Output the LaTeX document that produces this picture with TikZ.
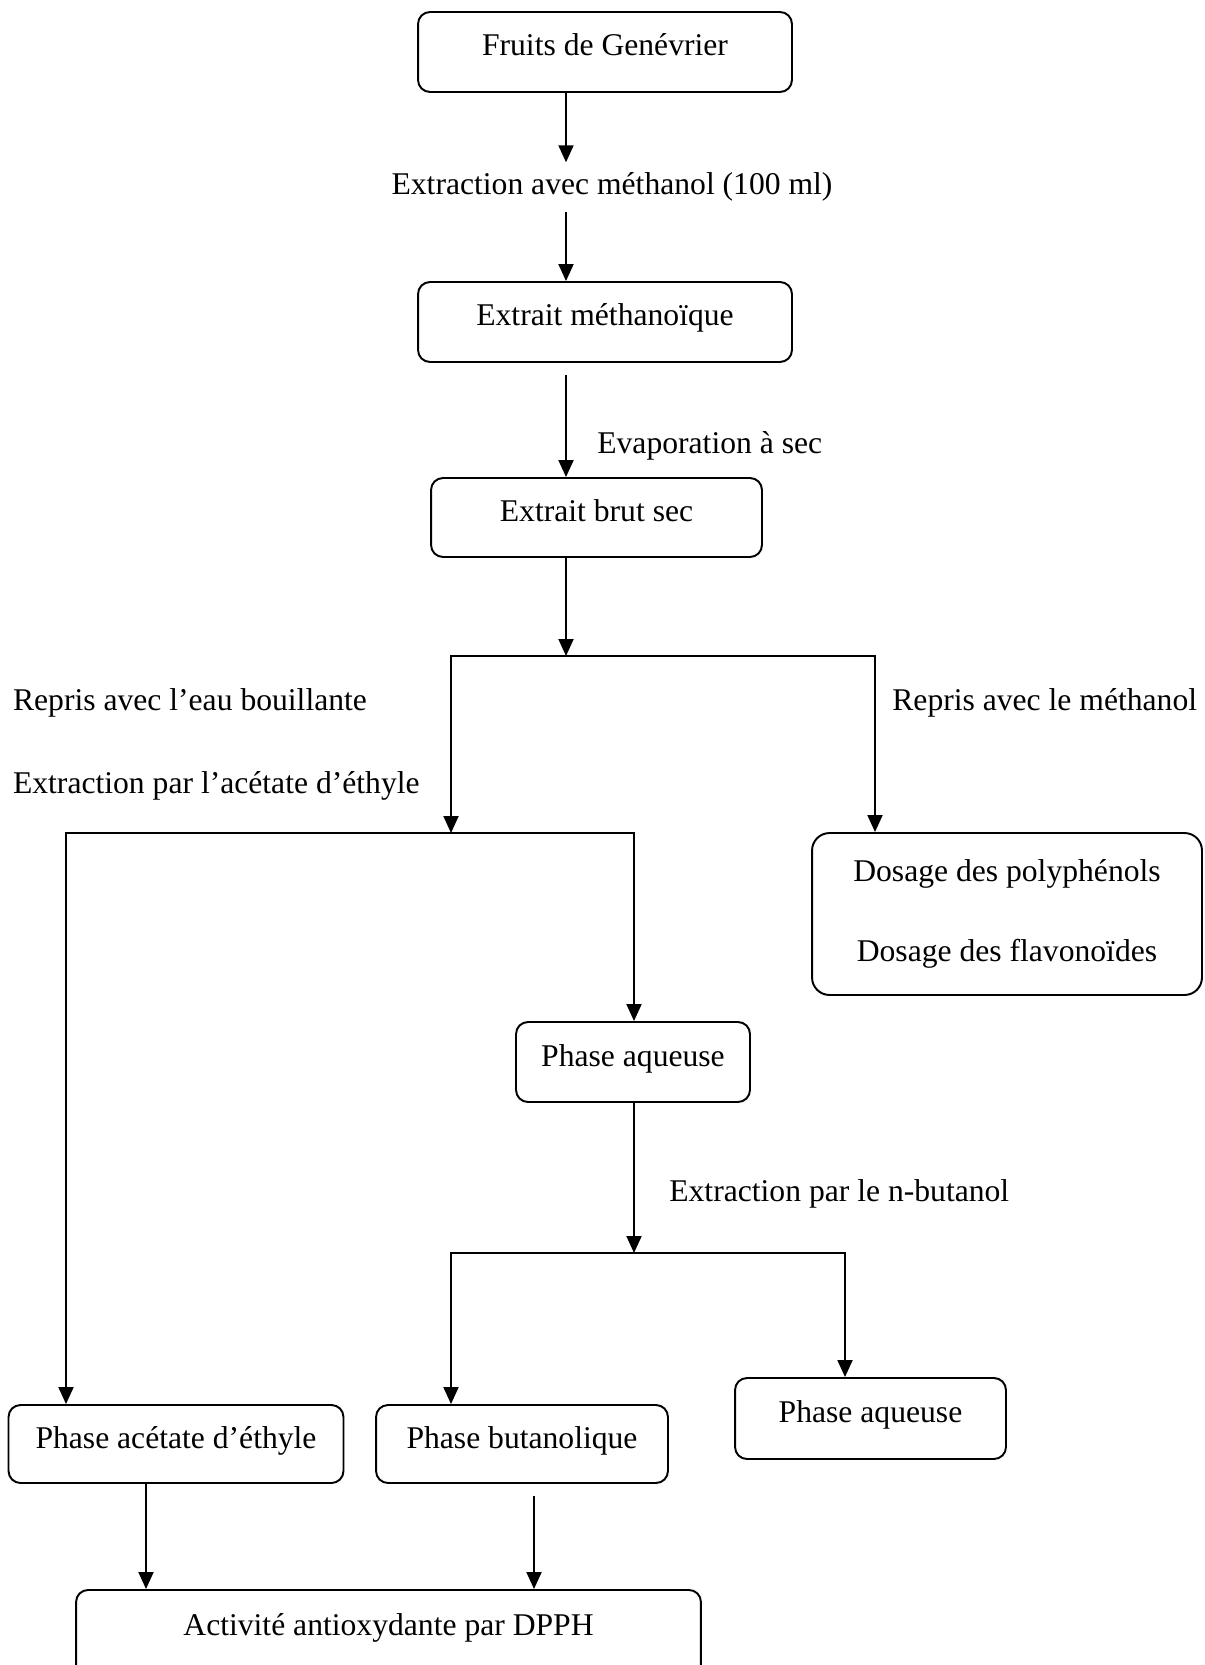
\documentclass[tikz,border=0pt]{standalone}
\usepackage{fontspec}
\setmainfont{Liberation Serif}
\usepackage{tikz}
\usetikzlibrary{arrows.meta}

\tikzset{
  procbox/.style={draw, rounded corners=0.24cm, line width=1.1pt, inner sep=0pt, text height=0.42cm, text depth=0.26cm},
  lbl/.style={inner xsep=0pt, inner ysep=0.2cm},
  flow/.style={line width=1.1pt, -{Triangle[length=0.34cm, width=0.3cm]}},
}

\begin{document}
\begin{tikzpicture}[x=0.02cm, y=-0.02cm, font=\fontsize{18}{21.6}\selectfont]
    \useasboundingbox (0, 0) rectangle (1204, 1665);

    \node[procbox, minimum width=7.48cm, minimum height=1.6cm] at (605, 52) (fruits) {Fruits de Genévrier};
    \node[lbl] at (612, 187) (extract) {Extraction avec méthanol (100 ml)};
    \node[procbox, minimum width=7.48cm, minimum height=1.6cm] at (605, 322) (methano) {Extrait méthanoïque};
    \node[lbl, anchor=west] at (597, 446) (evap) {Evaporation à sec};
    \node[procbox, minimum width=6.62cm, minimum height=1.58cm] at (596.5, 517.5) (brut) {Extrait brut sec};

    \node[lbl, anchor=west] at (12.7, 703) (eau) {Repris avec l’eau bouillante};
    \node[lbl, anchor=west] at (12.7, 786) (acetlbl) {Extraction par l’acétate d’éthyle};
    \node[lbl, anchor=west] at (892, 703) (methlbl) {Repris avec le méthanol};

    \node[procbox, rounded corners=0.35cm, minimum width=7.8cm, minimum height=3.24cm, text height=, text depth=, align=center] at (1007, 914) (dosage) {Dosage des polyphénols\\[0.84cm] Dosage des flavonoïdes};
    \node[procbox, minimum width=4.68cm, minimum height=1.6cm] at (633, 1062) (aq1) {Phase aqueuse};
    \node[lbl, anchor=west] at (669, 1194) (butlbl) {Extraction par le n-butanol};

    \node[procbox, minimum width=6.7cm, minimum height=1.56cm] at (176, 1444) (acet) {Phase acétate d’éthyle};
    \node[procbox, minimum width=5.84cm, minimum height=1.56cm] at (522, 1444) (but) {Phase butanolique};
    \node[procbox, minimum width=5.42cm, minimum height=1.62cm] at (870.5, 1418.5) (aq2) {Phase aqueuse};
    \node[procbox, anchor=north, minimum width=12.5cm, minimum height=2cm, text depth=0.6cm] at (388.5, 1589) (dpph) {Activité antioxydante par DPPH};

    \coordinate (mainx) at (566, 656);
    \coordinate (j1l) at (451, 656);
    \coordinate (j1r) at (875, 656);
    \coordinate (j2c) at (451, 833);
    \coordinate (j2l) at (66, 833);
    \coordinate (j2r) at (634, 833);
    \coordinate (j3c) at (634, 1253);
    \coordinate (j3l) at (451, 1253);
    \coordinate (j3r) at (845, 1253);
    \coordinate (acx) at (146, 1589);
    \coordinate (bux) at (534, 1589);

    \draw[flow] (fruits.south -| mainx) -- (extract.north -| mainx);
    \draw[flow] (extract.south -| mainx) -- (methano.north -| mainx);
    \draw[flow, shorten <=0.24cm] (methano.south -| mainx) -- (brut.north -| mainx);
    \draw[flow] (brut.south -| mainx) -- (mainx);

    \draw[flow] (j1l) -- (j1r) -- (dosage.north -| j1r);
    \draw[flow] (j1r) -- (j1l) -- (j2c);
    \draw[flow] (j2r) -- (j2l) -- (acet.north -| j2l);
    \draw[flow] (j2l) -- (j2r) -- (aq1.north -| j2r);
    \draw[flow] (aq1.south -| j3c) -- (j3c);
    \draw[flow] (j3r) -- (j3l) -- (but.north -| j3l);
    \draw[flow] (j3l) -- (j3r) -- (aq2.north -| j3r);

    \draw[flow] (acet.south -| acx) -- (dpph.north -| acx);
    \draw[flow, shorten <=0.24cm] (but.south -| bux) -- (dpph.north -| bux);
\end{tikzpicture}
\end{document}
